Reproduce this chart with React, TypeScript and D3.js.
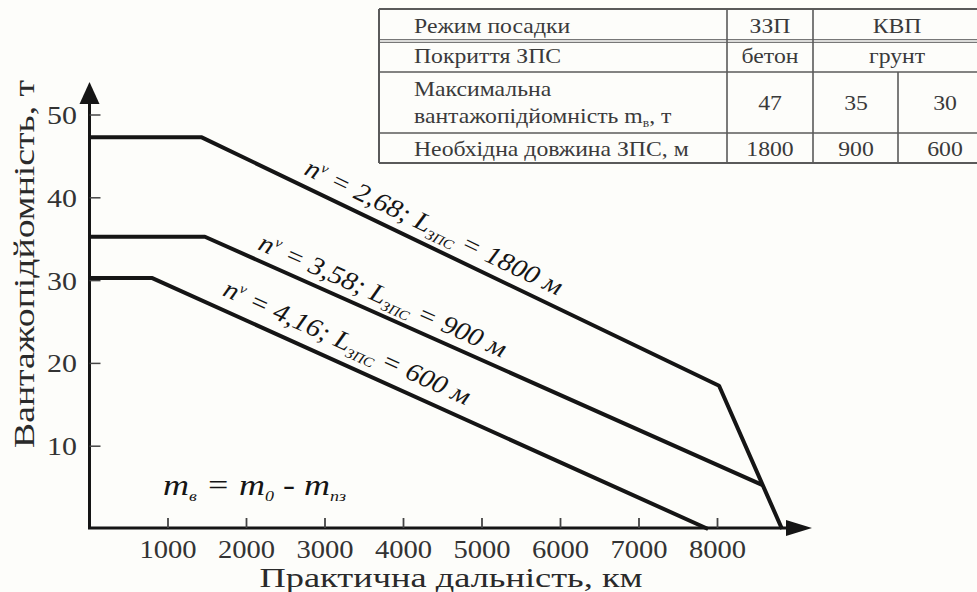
import React from 'react';
import * as d3 from 'd3';

const W = 977;
const H = 592;
const FONT = '"Liberation Serif", "Times New Roman", serif';
const INK = '#151515';

// ---- data ----
const xTickValues = [1000, 2000, 3000, 4000, 5000, 6000, 7000, 8000];
const yTickValues = [10, 20, 30, 40, 50];

const rangeA = [0, 1430, 8020, 8822];
const payloadA = [47.3, 47.3, 17.3, 0];
const rangeB = [0, 1470, 8575];
const payloadB = [35.3, 35.3, 5.3];
const rangeC = [0, 800, 7880];
const payloadC = [30.3, 30.3, 0];

const labelNv = ['2,68', '3,58', '4,16'];
const labelL = ['1800', '900', '600'];
const labelAt = [4280, 3640, 3170];
const labelOffset = [11, 10, 13];

const tableHeader = ['Режим посадки', 'ЗЗП', 'КВП'];
const tableSurface = ['Покриття ЗПС', 'бетон', 'грунт'];
const tablePayload = ['47', '35', '30'];
const tableRunway = ['Необхідна довжина ЗПС, м', '1800', '900', '600'];

const xs = d3.scaleLinear().domain([0, 8000]).range([89.5, 717.5]);
const ys = d3.scaleLinear().domain([0, 50]).range([529, 115]);

const series = [
  { xsVals: rangeA, ysVals: payloadA },
  { xsVals: rangeB, ysVals: payloadB },
  { xsVals: rangeC, ysVals: payloadC },
];

const lineGen = d3
  .line<[number, number]>()
  .x((d) => xs(d[0]))
  .y((d) => ys(d[1]));

function ST({ x, y, sx = 1, rot = 0, size, anchor = 'start', italic = false, fill = INK, children }: any) {
  return (
    <text
      transform={`translate(${x},${y}) rotate(${rot}) scale(${sx},1)`}
      fontFamily={FONT}
      fontSize={size}
      textAnchor={anchor}
      fontStyle={italic ? 'italic' : 'normal'}
      fill={fill}
    >
      {children}
    </text>
  );
}

export default function App() {
  const axisY0 = ys(0) - 1;
  const xEnd = 812;

  // table geometry
  const tc = [379, 727, 813, 898, 994];
  const tr = [9, 41, 72, 133, 163];
  const tcol = '#5a5a5a';
  const ttext = '#3a3a3a';
  const tsize = 21;
  const tsx = 1.13;

  return (
    <svg
      width={W}
      height={H}
      style={{ position: 'absolute', left: 0, top: 0, background: '#fdfdfa' }}
    >
      {/* table */}
      <g>
        <line x1={tc[0]} x2={W} y1={tr[0]} y2={tr[0]} stroke={tcol} strokeWidth={2} />
        <line x1={tc[0]} x2={W} y1={tr[1] - 1.3} y2={tr[1] - 1.3} stroke="#777" strokeWidth={1.2} />
        <line x1={tc[0]} x2={W} y1={tr[1] + 1.3} y2={tr[1] + 1.3} stroke="#777" strokeWidth={1.2} />
        <line x1={tc[0]} x2={W} y1={tr[2]} y2={tr[2]} stroke={tcol} strokeWidth={1.6} />
        <line x1={tc[0]} x2={W} y1={tr[3]} y2={tr[3]} stroke={tcol} strokeWidth={1.6} />
        <line x1={tc[0]} x2={W} y1={tr[4]} y2={tr[4]} stroke={tcol} strokeWidth={2} />
        <line x1={tc[0]} x2={tc[0]} y1={tr[0]} y2={tr[4]} stroke={tcol} strokeWidth={2} />
        <line x1={tc[1]} x2={tc[1]} y1={tr[0]} y2={tr[4]} stroke={tcol} strokeWidth={1.6} />
        <line x1={tc[2]} x2={tc[2]} y1={tr[0]} y2={tr[4]} stroke={tcol} strokeWidth={1.6} />
        <line x1={tc[3]} x2={tc[3]} y1={tr[2]} y2={tr[4]} stroke={tcol} strokeWidth={1.6} />

        <ST x={414} y={33} sx={tsx} size={tsize} fill={ttext}>{tableHeader[0]}</ST>
        <ST x={770} y={33} sx={tsx} size={tsize} anchor="middle" fill={ttext}>{tableHeader[1]}</ST>
        <ST x={897} y={33} sx={tsx} size={tsize} anchor="middle" fill={ttext}>{tableHeader[2]}</ST>

        <ST x={414} y={63} sx={tsx} size={tsize} fill={ttext}>{tableSurface[0]}</ST>
        <ST x={770} y={63} sx={tsx} size={tsize} anchor="middle" fill={ttext}>{tableSurface[1]}</ST>
        <ST x={897} y={63} sx={tsx} size={tsize} anchor="middle" fill={ttext}>{tableSurface[2]}</ST>

        <ST x={414} y={96} sx={tsx} size={tsize} fill={ttext}>Максимальна</ST>
        <ST x={414} y={123} sx={tsx} size={tsize} fill={ttext}>
          вантажопідйомність m<tspan fontSize={12} dy={4}>в</tspan><tspan dy={-4}>, т</tspan>
        </ST>
        <ST x={770} y={110} sx={tsx} size={tsize} anchor="middle" fill={ttext}>{tablePayload[0]}</ST>
        <ST x={856} y={110} sx={tsx} size={tsize} anchor="middle" fill={ttext}>{tablePayload[1]}</ST>
        <ST x={945} y={110} sx={tsx} size={tsize} anchor="middle" fill={ttext}>{tablePayload[2]}</ST>

        <ST x={414} y={156} sx={tsx} size={tsize} fill={ttext}>{tableRunway[0]}</ST>
        <ST x={770} y={156} sx={tsx} size={tsize} anchor="middle" fill={ttext}>{tableRunway[1]}</ST>
        <ST x={856} y={156} sx={tsx} size={tsize} anchor="middle" fill={ttext}>{tableRunway[2]}</ST>
        <ST x={945} y={156} sx={tsx} size={tsize} anchor="middle" fill={ttext}>{tableRunway[3]}</ST>
      </g>

      {/* axes */}
      <line x1={xs(0)} x2={xs(0)} y1={axisY0} y2={100} stroke={INK} strokeWidth={3} />
      <path d={`M${xs(0)},82 L${xs(0) - 10},104 L${xs(0) + 10},104 Z`} fill={INK} />
      <line x1={xs(0) - 1.5} x2={xEnd - 20} y1={axisY0} y2={axisY0} stroke={INK} strokeWidth={3} />
      <path d={`M${xEnd},${axisY0} L${xEnd - 26},${axisY0 - 8} L${xEnd - 26},${axisY0 + 8} Z`} fill={INK} />

      {yTickValues.map((v) => (
        <g key={'y' + v}>
          <line x1={xs(0)} x2={xs(0) + 11} y1={ys(v)} y2={ys(v)} stroke="#444" strokeWidth={1.5} />
          <ST x={77} y={ys(v) + 9} sx={1.15} size={26} anchor="end" fill="#333">{v}</ST>
        </g>
      ))}
      {xTickValues.map((v) => (
        <g key={'x' + v}>
          <line x1={xs(v)} x2={xs(v)} y1={axisY0} y2={axisY0 - 10} stroke="#444" strokeWidth={1.8} />
          <ST x={xs(v)} y={558} sx={1.1} size={26} anchor="middle" fill="#333">{v}</ST>
        </g>
      ))}

      {/* series lines */}
      {series.map((s, i) => (
        <path
          key={'s' + i}
          d={lineGen(s.xsVals.map((x, j) => [x, s.ysVals[j]] as [number, number])) || ''}
          fill="none"
          stroke={INK}
          strokeWidth={4}
          strokeLinejoin="round"
        />
      ))}

      {/* line labels */}
      {series.map((s, i) => {
        const x1 = s.xsVals[1], x2 = s.xsVals[2];
        const y1 = s.ysVals[1], y2 = s.ysVals[2];
        const px1 = xs(x1), py1 = ys(y1), px2 = xs(x2), py2 = ys(y2);
        const ang = (Math.atan2(py2 - py1, px2 - px1) * 180) / Math.PI;
        const t = (labelAt[i] - x1) / (x2 - x1);
        const px = px1 + (px2 - px1) * t;
        const py = py1 + (py2 - py1) * t;
        return (
          <text
            key={'l' + i}
            transform={`translate(${px},${py}) rotate(${ang}) scale(1.1,1)`}
            fontFamily={FONT}
            fontSize={26}
            fontStyle="italic"
            textAnchor="middle"
            fill={INK}
            y={-labelOffset[i]}
          >
            n<tspan fontSize={14} dy={-10}>v</tspan>
            <tspan dy={10}>{` = ${labelNv[i]}; L`}</tspan>
            <tspan fontSize={14} dy={5}>ЗПС</tspan>
            <tspan dy={-5}>{` = ${labelL[i]} м`}</tspan>
          </text>
        );
      })}

      {/* formula */}
      <text
        transform="translate(163,495) scale(1.2,1)"
        fontFamily={FONT}
        fontSize={30}
        fontStyle="italic"
        fill={INK}
      >
        m<tspan fontSize={15} dy={6}>в</tspan>
        <tspan dy={-6}> = m</tspan>
        <tspan fontSize={15} dy={6}>0</tspan>
        <tspan dy={-6}> - m</tspan>
        <tspan fontSize={15} dy={6}>пз</tspan>
      </text>

      {/* axis titles */}
      <ST x={451} y={587} sx={1.3} size={28} anchor="middle" fill="#2a2a2a">Практична дальність, км</ST>
      <ST x={34} y={264} sx={1.3} rot={-90} size={29} anchor="middle" fill="#2a2a2a">Вантажопідйомність, т</ST>
    </svg>
  );
}
